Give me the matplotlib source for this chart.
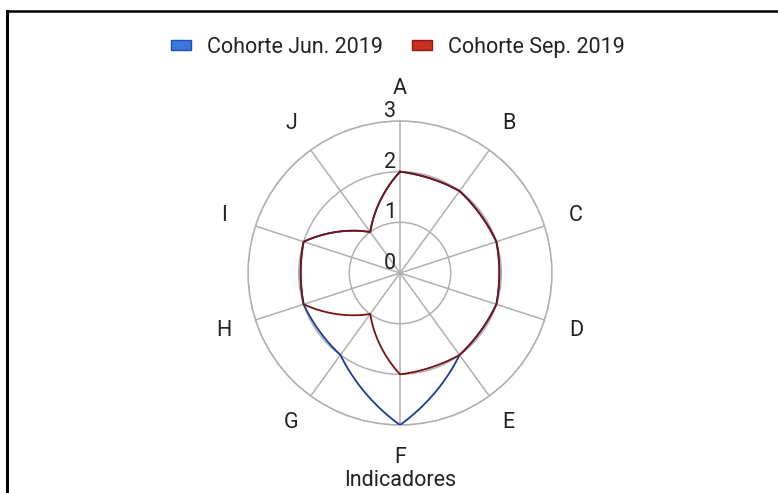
import numpy as np
import matplotlib
matplotlib.use("Agg")
import matplotlib.pyplot as plt
from matplotlib.patches import Patch
from matplotlib.lines import Line2D
import matplotlib.transforms as mtransforms

plt.rcParams['font.family'] = ['Roboto', 'DejaVu Sans']

categories = ["A", "B", "C", "D", "E", "F", "G", "H", "I", "J"]
jun_2019 = [2, 2, 2, 2, 2, 3, 2, 2, 2, 1]
sep_2019 = [2, 2, 2, 2, 2, 2, 1, 2, 2, 1]
series_names = ["Cohorte Jun. 2019", "Cohorte Sep. 2019"]
r_ticks = [0, 1, 2, 3]
axis_title = "Indicadores"

W, H = 778, 493
FS = 15.5
fig = plt.figure(figsize=(W / 100, H / 100), dpi=100)

cx, cy, R = 400, 273, 152
ax = fig.add_axes([(cx - R) / W, (H - cy - R) / H, 2 * R / W, 2 * R / H], projection='polar')
ax.set_theta_zero_location('N')
ax.set_theta_direction(-1)

n = len(categories)
theta = np.arange(n) * 2 * np.pi / n


def curved_closed(th, r, w=0.6, steps=40):
    """Closed path through the data points: each segment is a blend of the polar
    (angle/radius) interpolation and the straight chord, returned as (theta, r)."""
    r = np.asarray(r, float)
    th_c = np.append(th, th[0] + 2 * np.pi)
    r_c = np.append(r, r[0])
    t = np.linspace(0, 1, steps, endpoint=False)
    xs, ys = [], []
    for i in range(len(r)):
        a0, a1 = th_c[i], th_c[i + 1]
        r0, r1 = r_c[i], r_c[i + 1]
        aa = a0 + (a1 - a0) * t
        rr = r0 + (r1 - r0) * t
        px, py = rr * np.sin(aa), rr * np.cos(aa)
        x0, y0 = r0 * np.sin(a0), r0 * np.cos(a0)
        x1, y1 = r1 * np.sin(a1), r1 * np.cos(a1)
        lx, ly = x0 + (x1 - x0) * t, y0 + (y1 - y0) * t
        xs.append(w * px + (1 - w) * lx)
        ys.append(w * py + (1 - w) * ly)
    xs.append([r[0] * np.sin(th[0])])
    ys.append([r[0] * np.cos(th[0])])
    xs, ys = np.concatenate(xs), np.concatenate(ys)
    return np.unwrap(np.arctan2(xs, ys)), np.hypot(xs, ys)


t1, r1 = curved_closed(theta, jun_2019)
t2, r2 = curved_closed(theta, sep_2019)
ax.plot(t1, r1, color='#1b3a9e', lw=1.3, zorder=3)
ax.plot(t2, r2, color='#7a1212', lw=1.3, zorder=4)

ax.set_ylim(0, 3)
ax.set_yticks(r_ticks[1:])
ax.set_yticklabels([])
ax.set_xticks(theta)
ax.set_xticklabels([])
ax.grid(True, color='#b0b0b0', lw=1.1)
ax.spines['polar'].set_color('#b0b0b0')
ax.spines['polar'].set_linewidth(1.1)
ax.tick_params(length=0)

off = mtransforms.offset_copy(ax.transData, fig=fig, x=-4, y=-1, units='dots')
for r in r_ticks:
    ax.text(0, r, str(r), transform=off, ha='right', va='bottom', fontsize=FS,
            color='#222222', clip_on=False, zorder=5)

for t, lab in zip(theta, categories):
    ax.text(t, 3.65, lab, ha='center', va='center', fontsize=FS, color='#222222', clip_on=False)

fig.text(cx / W, 1 - 481 / H, axis_title, ha='center', va='center', fontsize=FS, color='#222222')

handles = [Patch(facecolor='#3a76dc', edgecolor='#1d4fb8', lw=1),
           Patch(facecolor='#c8301f', edgecolor='#8a1c14', lw=1)]
leg = fig.legend(handles, series_names, loc='center', bbox_to_anchor=(398 / W, 1 - 47.5 / H),
                 ncol=2, frameon=False, fontsize=FS, handlelength=0.93, handleheight=0.33,
                 columnspacing=1.35, handletextpad=0.75)
for t in leg.get_texts():
    t.set_color('#222222')

# partial frame (top and left edges)
fig.add_artist(Line2D([7 / W, 1], [1 - 11 / H, 1 - 11 / H], transform=fig.transFigure, color='black', lw=1.8))
fig.add_artist(Line2D([7 / W, 7 / W], [0, 1 - 11 / H], transform=fig.transFigure, color='black', lw=2.2))

fig.savefig("out.png", dpi=100)
